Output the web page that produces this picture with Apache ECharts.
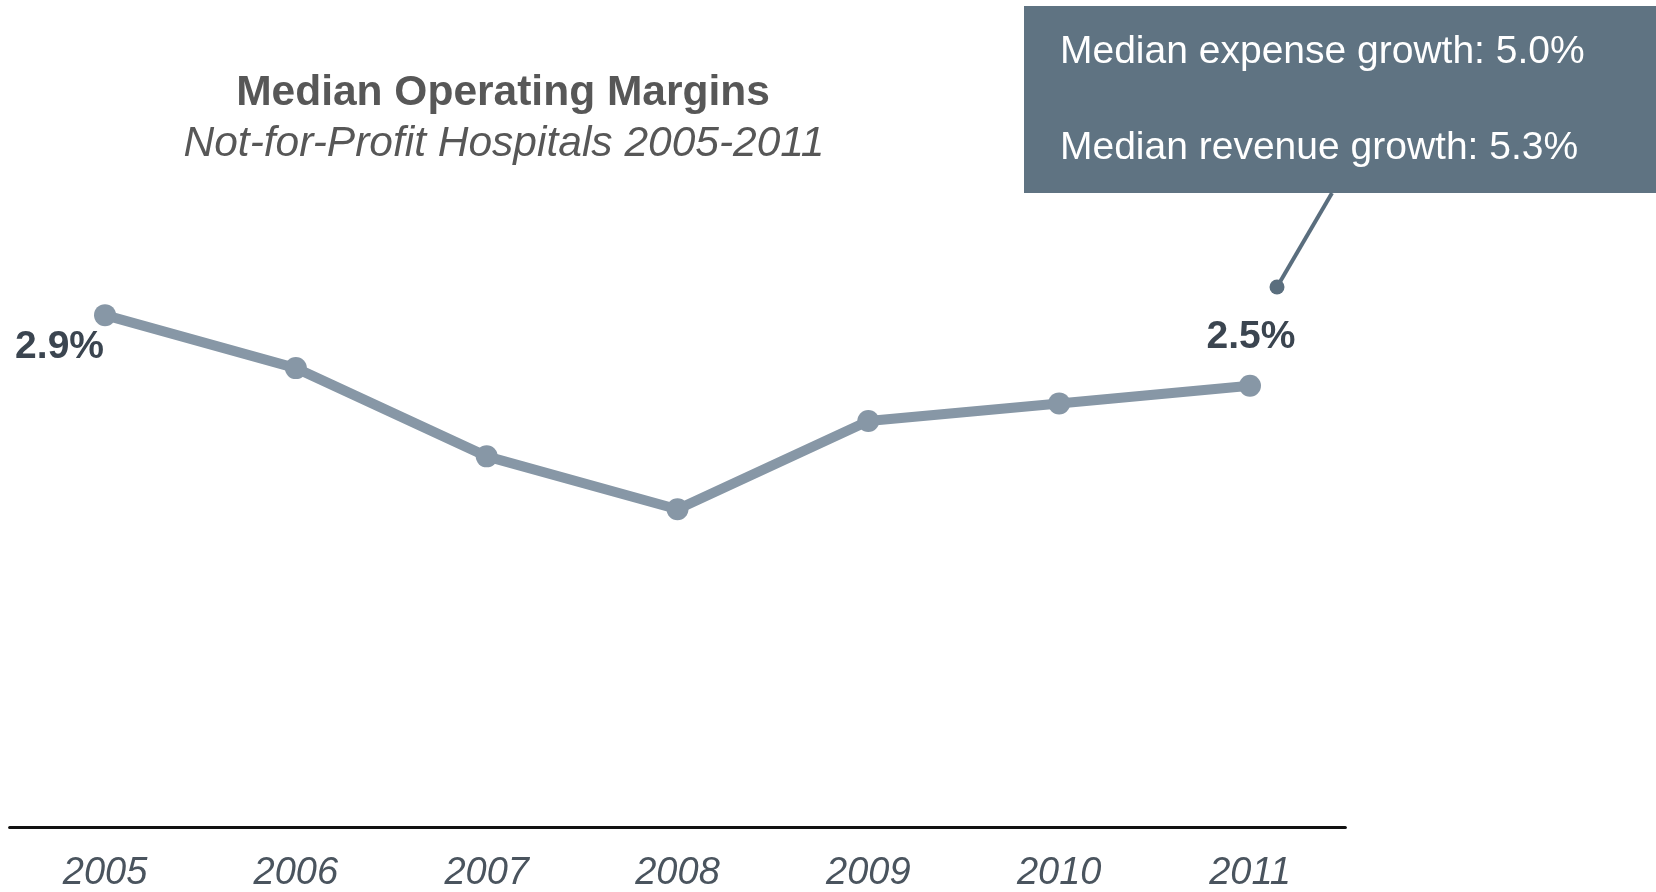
<!DOCTYPE html>
<html>
<head>
<meta charset="utf-8">
<script src="https://cdn.jsdelivr.net/npm/echarts@6/dist/echarts.min.js"></script>
<style>
html,body{margin:0;padding:0;background:#fff;}
#chart{width:1656px;height:892px;}
</style>
</head>
<body>
<div id="chart"></div>
<script>
const years = ['2005','2006','2007','2008','2009','2010','2011'];
const margins = [2.9, 2.6, 2.1, 1.8, 2.3, 2.4, 2.5];
const titleText = 'Median Operating Margins';
const subtitleText = 'Not-for-Profit Hospitals 2005-2011';
const noteLines = ['Median expense growth: 5.0%', 'Median revenue growth: 5.3%'];

const FONT = '"Liberation Sans", Arial, sans-serif';
const chart = echarts.init(document.getElementById('chart'));

const lastIdx = margins.length - 1;
const seriesData = margins.map((v, i) => {
  if (i === 0) {
    return {value: v, label: {show: true, position: 'left', distance: 0, offset: [10, 32]}};
  }
  if (i === lastIdx) {
    return {value: v, label: {show: true, position: 'top', distance: 18, offset: [1, 0]}};
  }
  return v;
});

chart.setOption({
  backgroundColor: '#ffffff',
  animation: false,
  title: [
    {text: titleText, left: 498, top: 67, textAlign: 'center',
     textStyle: {fontFamily: FONT, fontSize: 42.5, fontWeight: 'bold', color: '#575757', lineHeight: 43}},
    {text: subtitleText, left: 499, top: 118, textAlign: 'center',
     textStyle: {fontFamily: FONT, fontSize: 42.5, fontStyle: 'italic', fontWeight: 'normal', color: '#575757', lineHeight: 43}}
  ],
  grid: {left: 9.6, right: 310.6, top: 121, bottom: 64, containLabel: false},
  xAxis: {
    type: 'category',
    data: years,
    boundaryGap: true,
    axisLine: {show: true, lineStyle: {color: '#111111', width: 3}},
    axisTick: {show: false},
    axisLabel: {fontFamily: FONT, fontSize: 38, fontStyle: 'italic', color: '#4a545e', margin: 27, lineHeight: 38}
  },
  yAxis: {
    type: 'value', min: 0, max: 4, show: false,
    splitLine: {show: false}
  },
  series: [{
    type: 'line',
    data: seriesData,
    symbol: 'circle',
    symbolSize: 22,
    lineStyle: {color: '#8797a6', width: 10},
    itemStyle: {color: '#8797a6'},
    label: {show: false, formatter: p => p.value.toFixed(1) + '%',
      fontFamily: FONT, fontSize: 39, fontWeight: 'bold', color: '#3b4550', lineHeight: 39},
    emphasis: {disabled: true},
    z: 3
  }],
  graphic: [
    {type: 'rect', shape: {x: 1024, y: 6, width: 640, height: 187}, style: {fill: '#5f7382'}, z: 10},
    {type: 'text', x: 1060, y: 52, z: 11, style: {text: noteLines[0], fill: '#ffffff', font: '39px ' + FONT, verticalAlign: 'middle'}},
    {type: 'text', x: 1060, y: 148, z: 11, style: {text: noteLines[1], fill: '#ffffff', font: '39px ' + FONT, verticalAlign: 'middle'}},
    {type: 'line', shape: {x1: 1332, y1: 193, x2: 1277, y2: 287}, style: {stroke: '#5a6e7e', lineWidth: 4}, z: 10},
    {type: 'circle', shape: {cx: 1277, cy: 287, r: 7.5}, style: {fill: '#5a6e7e'}, z: 10}
  ]
});
</script>
</body>
</html>
